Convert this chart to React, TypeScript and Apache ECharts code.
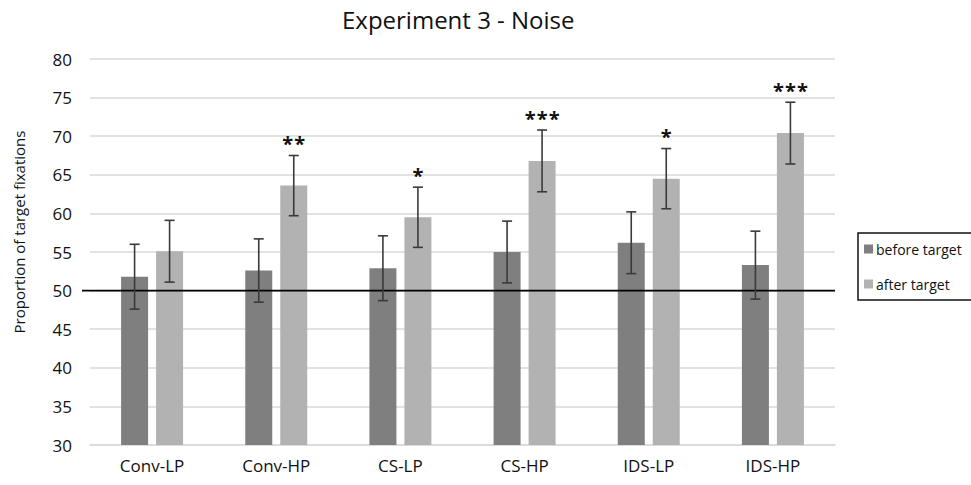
import React, { useEffect, useRef } from "react";
import * as echarts from "echarts";

// Conditions shown along the x axis
const categories = ["Conv-LP", "Conv-HP", "CS-LP", "CS-HP", "IDS-LP", "IDS-HP"];

// Mean proportion of target fixations (%)
const beforeTarget = [51.8, 52.6, 52.9, 55.0, 56.2, 53.3];
const afterTarget = [55.1, 63.6, 59.5, 66.8, 64.5, 70.4];

// Error bar half-widths
const beforeErr = [4.2, 4.1, 4.2, 4.0, 4.0, 4.4];
const afterErr = [4.0, 3.9, 3.9, 4.0, 3.9, 4.0];

// Significance markers above the "after target" bars
const afterSig = ["", "**", "*", "***", "*", "***"];

const seriesNames = ["before target", "after target"];
const chanceLevel = 50;

const FONT = "'Open Sans', sans-serif";
const BAR_W = 27;
const BAR_GAP = 8;
const DARK = "#7f7f7f";
const LIGHT = "#b2b2b2";
const ERR_COLOR = "#3a3a3a";
const STAR_STEP = 12;

function errorBarSeries(means: number[], errs: number[], side: number, sig?: string[]) {
  const data = means.map((m, i) => [i, m - errs[i], m + errs[i]]);
  return {
    type: "custom",
    name: "err" + side,
    silent: true,
    z: 5,
    data,
    renderItem: (params: any, api: any) => {
      const i = api.value(0);
      const lo = api.coord([i, api.value(1)]);
      const hi = api.coord([i, api.value(2)]);
      const x = lo[0] + side * (BAR_W + BAR_GAP) / 2;
      const cap = 5;
      const style = { stroke: ERR_COLOR, lineWidth: 1.6 };
      const children: any[] = [
        { type: "line", shape: { x1: x, y1: hi[1], x2: x, y2: lo[1] }, style },
        { type: "line", shape: { x1: x - cap, y1: hi[1], x2: x + cap, y2: hi[1] }, style },
        { type: "line", shape: { x1: x - cap, y1: lo[1], x2: x + cap, y2: lo[1] }, style },
      ];
      const mark = sig ? sig[params.dataIndex] : "";
      const n = mark.length;
      for (let k = 0; k < n; k++) {
        children.push({
          type: "text",
          style: {
            x: x + (k - (n - 1) / 2) * STAR_STEP,
            y: hi[1] - 12,
            text: mark[k],
            fill: "#111",
            font: `bold 20px ${FONT}`,
            textAlign: "center",
            textVerticalAlign: "middle",
          },
        });
      }
      return { type: "group", children };
    },
  };
}

export default function App() {
  const ref = useRef<HTMLDivElement>(null);

  useEffect(() => {
    document.body.style.margin = "0";
    if (!ref.current) return;
    const chart = echarts.init(ref.current, undefined, { renderer: "svg" });

    chart.setOption({
      animation: false,
      backgroundColor: "#ffffff",
      textStyle: { fontFamily: FONT },
      title: {
        text: "Experiment 3 - Noise",
        left: 337,
        top: 2,
        textStyle: { fontFamily: FONT, fontSize: 24, fontWeight: "normal", color: "#111" },
      },
      legend: {
        orient: "vertical",
        left: 858,
        top: 233,
        data: seriesNames,
        itemWidth: 9,
        itemHeight: 9,
        itemGap: 21,
        borderColor: "#111",
        borderWidth: 1.5,
        padding: [9, 10, 9, 6],
        icon: "rect",
        textStyle: { fontFamily: FONT, fontSize: 14, color: "#111", padding: [0, 0, 0, -2] },
      },
      grid: { left: 90, right: 136, top: 59, bottom: 40, containLabel: false },
      xAxis: {
        type: "category",
        data: categories,
        axisLine: { lineStyle: { color: "#d9d9d9", width: 1.5 } },
        axisTick: { show: false },
        axisLabel: { fontFamily: FONT, fontSize: 17, color: "#111", margin: 12 },
      },
      yAxis: {
        type: "value",
        min: 30,
        max: 80,
        interval: 5,
        axisLine: { show: false },
        axisTick: { show: false },
        splitLine: { lineStyle: { color: "#d9d9d9", width: 1.5 } },
        axisLabel: { fontFamily: FONT, fontSize: 17, color: "#111", margin: 18 },
      },
      series: [
        {
          name: seriesNames[0],
          type: "bar",
          data: beforeTarget,
          barWidth: BAR_W,
          barGap: `${(BAR_GAP / BAR_W) * 100}%`,
          itemStyle: { color: DARK },
          z: 2,
        },
        {
          name: seriesNames[1],
          type: "bar",
          data: afterTarget,
          barWidth: BAR_W,
          itemStyle: { color: LIGHT },
          z: 2,
        },
        errorBarSeries(beforeTarget, beforeErr, -1),
        errorBarSeries(afterTarget, afterErr, 1, afterSig),
      ],
    });

    // Reference line at chance level; it starts a little left of the plot area
    const yChance = chart.convertToPixel({ yAxisIndex: 0 }, chanceLevel) as number;
    const grid = (chart as any).getModel().getComponent("grid", 0).coordinateSystem.getRect();
    chart.setOption({
      graphic: [
        {
          type: "line",
          z: 4,
          shape: { x1: grid.x - 8, y1: yChance, x2: grid.x + grid.width, y2: yChance },
          style: { stroke: "#000", lineWidth: 1.6 },
        },
        {
          type: "text",
          x: 19,
          y: 232,
          rotation: Math.PI / 2,
          style: {
            text: "Proportion of target fixations",
            font: `15px ${FONT}`,
            fill: "#111",
            textAlign: "center",
            textVerticalAlign: "middle",
          },
        },
      ],
    });

    return () => chart.dispose();
  }, []);

  return <div ref={ref} style={{ width: 971, height: 485 }} />;
}
